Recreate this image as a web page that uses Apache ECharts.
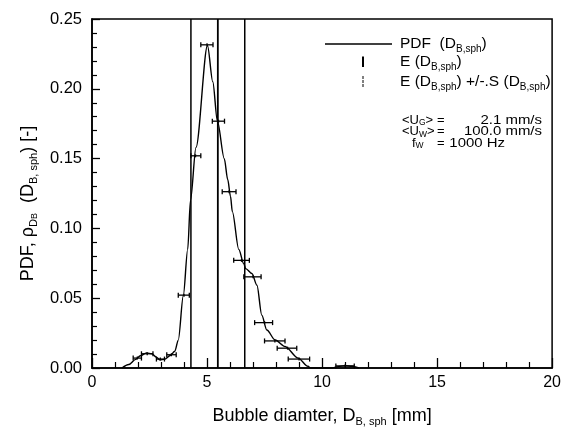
<!DOCTYPE html>
<html>
<head>
<meta charset="utf-8">
<style>
  html, body { margin: 0; padding: 0; background: #fff; }
  #chart { width: 564px; height: 432px; }
</style>
<script src="https://cdn.jsdelivr.net/npm/echarts@6/dist/echarts.min.js"></script>
</head>
<body>
<div id="chart"></div>
<script>
// Smoothed probability density of the spherical-equivalent bubble diameter
const pdfX = [1.3, 1.6, 1.9, 2.1, 2.37, 2.6, 2.8, 2.95, 3.15, 3.4, 3.6, 3.75, 3.97, 4.16, 4.28, 4.52,
              5.02, 5.25, 5.45, 5.75, 5.9, 6.02, 6.1, 6.38, 6.6, 6.68, 6.95, 7.17, 7.38, 7.6, 7.96,
              8.39, 8.96, 9.39, 9.5, 10.4, 10.7, 11.0, 11.3, 11.6];
const pdfY = [0, 0.0025, 0.0062, 0.0088, 0.0108, 0.0102, 0.0078, 0.0058, 0.0062, 0.009, 0.012, 0.02, 0.052, 0.085, 0.12, 0.158,
              0.231, 0.205, 0.177, 0.150, 0.135, 0.123, 0.112, 0.085, 0.0746, 0.0712, 0.0677, 0.0593, 0.0379, 0.0272, 0.0201,
              0.0154, 0.0071, 0.0012, 0, 0, 0.001, 0.0016, 0.0012, 0];

// Histogram classes: class centre, frequency density, class bounds
const binCenter = [1.97, 2.4, 2.97, 3.45, 4.0, 4.5, 5.0, 5.5, 5.96, 6.5, 7.0, 7.5, 7.95, 8.5, 9.0, 11.0];
const binValue  = [0.0071, 0.0102, 0.0064, 0.0095, 0.0522, 0.152, 0.2315, 0.1768, 0.1263, 0.0771, 0.0653, 0.0325, 0.0194, 0.0142, 0.0064, 0.0015];
const binLow    = [1.79, 2.15, 2.8, 3.25, 3.75, 4.3, 4.73, 5.23, 5.66, 6.16, 6.6, 7.07, 7.5, 8.05, 8.53, 10.6];
const binHigh   = [2.15, 2.65, 3.15, 3.66, 4.23, 4.73, 5.26, 5.76, 6.26, 6.84, 7.35, 7.85, 8.39, 8.9, 9.46, 11.4];

// Mean diameter and standard deviation [mm]
const meanD = 5.47;
const stdD = 1.17;

// Axis ranges: min, max, interval
const xRange = [0, 20, 5];
const yRange = [0, 0.25, 0.05];

// Operating conditions: symbol, subscript, value with unit
const condSymbol = ['<U', '<U', 'f'];
const condSub    = ['G', 'W', 'W'];
const condValue  = ['2.1 mm/s', '100.0 mm/s', '1000 Hz'];

const FONT = 'Liberation Sans';
const chart = echarts.init(document.getElementById('chart'), null, { renderer: 'canvas' });

const pdfData = pdfX.map((x, i) => [x, pdfY[i]]);
const binData = binCenter.map((c, i) => [c, binValue[i], binLow[i], binHigh[i]]);
const vline = (x) => [[x, yRange[0]], [x, yRange[1]]];

const subRich = (size, lh) => ({
  t: { fontFamily: FONT, fontSize: size, color: '#000', lineHeight: lh },
  s: { fontFamily: FONT, fontSize: Math.round(size * 0.62), color: '#000', verticalAlign: 'bottom', lineHeight: Math.round(lh * 0.5) },
  ss: { fontFamily: FONT, fontSize: Math.round(size * 0.5), color: '#000', verticalAlign: 'bottom', lineHeight: Math.round(lh * 0.3) }
});

// key entries and condition lines
const keyText = [
  '{t|PDF  (D}{s|B,sph}{t|)}',
  '{t|E (D}{s|B,sph}{t|)}',
  '{t|E (D}{s|B,sph}{t|) +/-.S (D}{s|B,sph}{t|)}'
];
const keyY = [44, 62, 82];
const condY = [120, 131.7, 143.3];
const condRich = {
  t: { fontFamily: FONT, fontSize: 13, color: '#000', lineHeight: 14 },
  s: { fontFamily: FONT, fontSize: 8.5, color: '#000', verticalAlign: 'bottom', lineHeight: 6 }
};

const graphics = [
  { type: 'line', shape: { x1: 325, y1: keyY[0], x2: 392, y2: keyY[0] }, style: { stroke: '#000', lineWidth: 1.4 } },
  { type: 'line', shape: { x1: 363, y1: keyY[1] - 5.5, x2: 363, y2: keyY[1] + 5 }, style: { stroke: '#000', lineWidth: 2 } },
  { type: 'line', shape: { x1: 363, y1: keyY[2] - 6, x2: 363, y2: keyY[2] + 6 }, style: { stroke: '#000', lineWidth: 1, lineDash: [3, 1] } }
];
keyText.forEach((txt, i) => {
  graphics.push({ type: 'text', x: 400, y: keyY[i], style: { text: txt, verticalAlign: 'middle', rich: subRich(15.5, 20) } });
});
condSymbol.forEach((sym, i) => {
  const isU = sym === '<U';
  graphics.push({ type: 'text', x: isU ? 402 : 412, y: condY[i],
    style: { text: '{t|' + sym + '}{s|' + condSub[i] + '}' + (isU ? '{t|>}' : ''), verticalAlign: 'middle', rich: condRich } });
  graphics.push({ type: 'text', x: 437, y: condY[i],
    style: { text: '{t|=}', verticalAlign: 'middle', rich: condRich } });
  graphics.push({ type: 'text', x: isU ? 542 : 505, y: condY[i], scaleX: 1.15,
    style: { text: '{t|' + condValue[i] + '}', align: 'right', verticalAlign: 'middle', rich: condRich } });
});

chart.setOption({
  backgroundColor: '#fff',
  animation: false,
  grid: { left: 92, right: 7, top: 19, bottom: 62, show: true, borderColor: '#000', borderWidth: 1.5, backgroundColor: 'transparent' },
  xAxis: {
    type: 'value', min: xRange[0], max: xRange[1], interval: xRange[2],
    axisLine: { lineStyle: { color: '#000', width: 1.6 } },
    axisTick: { inside: true, length: 10, lineStyle: { color: '#000', width: 1.3 } },
    minorTick: { show: true, splitNumber: 5, length: 6, lineStyle: { color: '#000', width: 1.2 } },
    splitLine: { show: false },
    axisLabel: { color: '#000', fontFamily: FONT, fontSize: 16, margin: 7 },
    name: '{t|Bubble diamter, D}{s|B, sph}{t| [mm]}',
    nameLocation: 'middle', nameGap: 37,
    nameTextStyle: { rich: subRich(18, 22) }
  },
  yAxis: {
    type: 'value', min: yRange[0], max: yRange[1], interval: yRange[2],
    axisLine: { lineStyle: { color: '#000', width: 1.6 } },
    axisTick: { inside: true, length: 8, lineStyle: { color: '#000', width: 1.3 } },
    minorTick: { show: true, splitNumber: 5, length: 5, lineStyle: { color: '#000', width: 1.2 } },
    splitLine: { show: false },
    axisLabel: { color: '#000', fontFamily: FONT, fontSize: 16.5, margin: 10, formatter: (v) => v.toFixed(2) },
    name: '{t|PDF, ρ}{s|D}{ss|B}{t|  (D}{s|B, sph}{t|) [-]}',
    nameLocation: 'middle', nameGap: 41,
    nameTextStyle: { rich: subRich(18, 22), padding: [0, 20, 0, 0] }
  },
  series: [
    {
      name: 'PDF', type: 'line', data: pdfData, symbol: 'none',
      smooth: 0.3, smoothMonotone: 'x',
      lineStyle: { color: '#000', width: 1.4 }, z: 3
    },
    {
      name: 'E', type: 'line', data: vline(meanD), symbol: 'none',
      lineStyle: { color: '#000', width: 1.8 }, z: 2
    },
    {
      name: 'E-S', type: 'line', data: vline(meanD - stdD), symbol: 'none',
      lineStyle: { color: '#000', width: 1.5 }, z: 2
    },
    {
      name: 'E+S', type: 'line', data: vline(meanD + stdD), symbol: 'none',
      lineStyle: { color: '#000', width: 1.5 }, z: 2
    },
    {
      name: 'classes', type: 'custom', data: binData,
      encode: { x: [0, 2, 3], y: 1 },
      z: 4,
      renderItem: (params, api) => {
        const y = api.value(1);
        const l = api.coord([api.value(2), y]);
        const r = api.coord([api.value(3), y]);
        const c = api.coord([api.value(0), y]);
        const st = { stroke: '#000', lineWidth: 1.3 };
        return {
          type: 'group',
          children: [
            { type: 'line', shape: { x1: l[0], y1: l[1], x2: r[0], y2: r[1] }, style: st },
            { type: 'line', shape: { x1: l[0], y1: l[1] - 2.5, x2: l[0], y2: l[1] + 2.5 }, style: st },
            { type: 'line', shape: { x1: r[0], y1: r[1] - 2.5, x2: r[0], y2: r[1] + 2.5 }, style: st },
            { type: 'line', shape: { x1: c[0], y1: c[1] - 1.5, x2: c[0], y2: c[1] + 1.5 }, style: st }
          ]
        };
      }
    }
  ],
  graphic: graphics
});
</script>
</body>
</html>
